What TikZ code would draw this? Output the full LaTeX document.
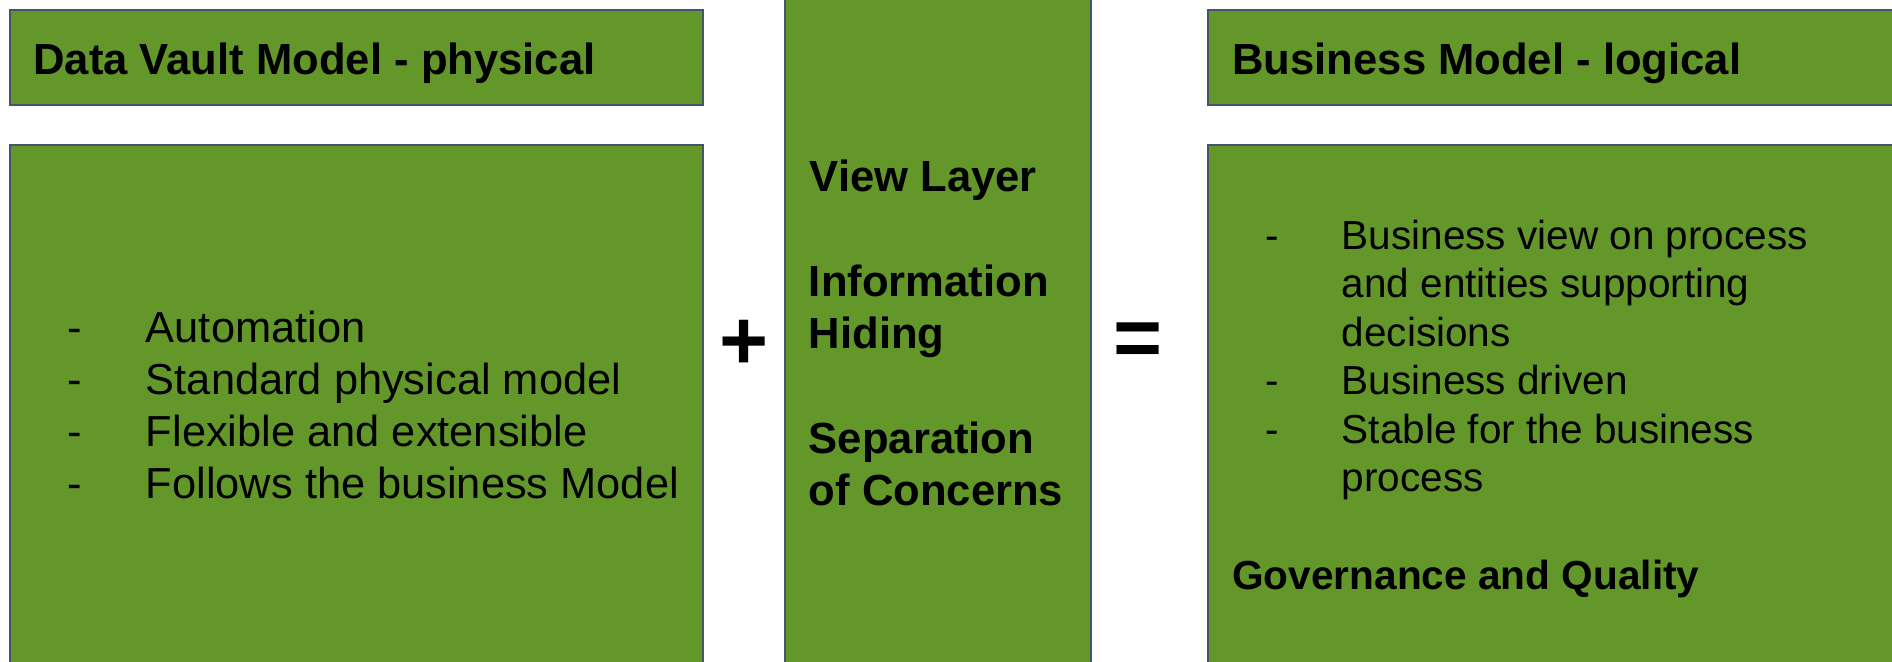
\documentclass[tikz,border=0pt]{standalone}
\usepackage{fontspec}
\setmainfont{Liberation Sans}
\definecolor{boxgreen}{RGB}{100,151,42}
\definecolor{boxline}{RGB}{68,84,106}
\tikzset{
  box/.style={fill=boxgreen, draw=boxline, line width=1.1pt},
  hdr/.style={anchor=base west, inner sep=0pt, font=\fontsize{21.8}{26}\selectfont\bfseries},
  bodyL/.style={anchor=base west, inner sep=0pt, font=\fontsize{21.7}{26}\selectfont},
  bodyR/.style={anchor=base west, inner sep=0pt, font=\fontsize{20.25}{24.3}\selectfont},
  boldR/.style={anchor=base west, inner sep=0pt, font=\fontsize{20.3}{24.3}\selectfont\bfseries},
  opsym/.style={anchor=center, inner sep=0pt, font=\fontsize{42}{50}\selectfont\bfseries}
}
\begin{document}
\begin{tikzpicture}[x=0.5pt, y=-0.5pt]
\useasboundingbox (0,0) rectangle (1892,661);
\clip (0,0) rectangle (1892,661);
% boxes
\path[box] (10,10) rectangle (703,105);
\path[box] (10,145) rectangle (703,720);
\path[box] (785,-40) rectangle (1091,720);
\path[box] (1208,10) rectangle (1960,105);
\path[box] (1208,145) rectangle (1960,720);
% headers
\node[hdr] (h1) at (33,74) {Data Vault Model - physical};
\node[hdr] (h2) at (1232,74) {Business Model - logical};
% left body
\node[bodyL] (ld1) at (66.7,342.7) {-};
\node[bodyL] (lt1) at (145.5,342.7) {Automation};
\node[bodyL] (ld2) at (66.7,394.5) {-};
\node[bodyL] (lt2) at (145.5,394.5) {Standard physical model};
\node[bodyL] (ld3) at (66.7,446.3) {-};
\node[bodyL] (lt3) at (145.5,446.3) {Flexible and extensible};
\node[bodyL] (ld4) at (66.7,498.1) {-};
\node[bodyL] (lt4) at (145.5,498.1) {Follows the business Model};
% middle
\node[hdr] (m1) at (809.5,191.7) {View Layer};
\node[hdr] (m2) at (808.5,296.3) {Information};
\node[hdr] (m3) at (808.5,348.6) {Hiding};
\node[hdr] (m4) at (808.5,453.2) {Separation};
\node[hdr] (m5) at (808.5,505.5) {of Concerns};
% operators
\node[opsym] (plus) at (744,345) {+};
\node[opsym] (eq) at (1138.5,344.5) {=};
% right body
\node[bodyR] (rd1) at (1265.2,249.3) {-};
\node[bodyR] (rt1) at (1341.5,249.3) {Business view on process};
\node[bodyR] (rt2) at (1341.5,297.8) {and entities supporting};
\node[bodyR] (rt3) at (1341.5,346.3) {decisions};
\node[bodyR] (rd4) at (1265.2,394.8) {-};
\node[bodyR] (rt4) at (1341.5,394.8) {Business driven};
\node[bodyR] (rd5) at (1265.2,443.3) {-};
\node[bodyR] (rt5) at (1341.5,443.3) {Stable for the business};
\node[bodyR] (rt6) at (1341.5,491.8) {process};
\node[boldR] (gq) at (1232,589.3) {Governance and Quality};
\end{tikzpicture}
\end{document}
